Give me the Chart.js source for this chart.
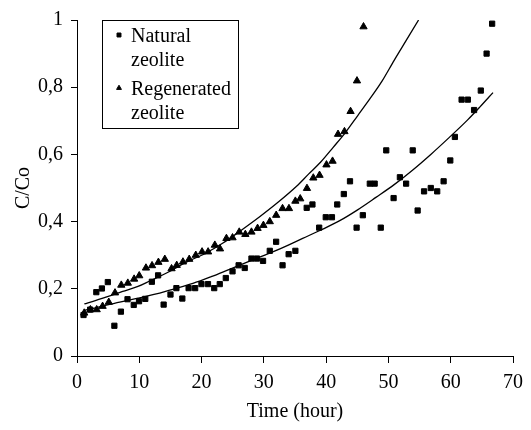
<!DOCTYPE html>
<html>
<head>
<meta charset="utf-8">
<script src="https://cdn.jsdelivr.net/npm/chart.js"></script>
<style>
  html, body { margin: 0; padding: 0; background: #fff; }
  #wrap { width: 531px; height: 430px; }
</style>
</head>
<body>
<div id="wrap"><canvas id="chart" width="531" height="430"></canvas></div>
<script>
// measured breakthrough points, natural zeolite
const hoursNatural = [1.05, 2.11, 3.1, 4.0, 4.95, 6.0, 7.05, 8.11, 9.11, 9.96, 10.96, 12.02, 13.02, 13.91,
  15.01, 15.96, 16.91, 17.92, 18.97, 19.98, 21.03, 22.03, 22.92, 23.89, 24.97, 25.95, 26.93, 28.01, 28.89,
  29.87, 30.95, 31.97, 33.0, 33.98, 35.06, 36.88, 37.8, 38.88, 39.94, 40.93, 41.78, 42.84, 43.83, 44.89,
  45.89, 47.01, 47.79, 48.77, 49.65, 50.83, 51.84, 52.84, 53.9, 54.69, 55.72, 56.8, 57.83, 58.86, 59.93,
  60.67, 61.75, 62.75, 63.75, 64.83, 65.76, 66.65];
const cNatural = [0.122, 0.138, 0.19, 0.201, 0.22, 0.09, 0.132, 0.169, 0.152, 0.163, 0.17, 0.221, 0.24, 0.153,
  0.183, 0.202, 0.171, 0.202, 0.202, 0.214, 0.214, 0.202, 0.214, 0.232, 0.252, 0.27, 0.262, 0.29, 0.29,
  0.283, 0.313, 0.34, 0.27, 0.303, 0.313, 0.441, 0.451, 0.382, 0.413, 0.413, 0.451, 0.482, 0.52, 0.382,
  0.419, 0.513, 0.513, 0.382, 0.612, 0.47, 0.532, 0.513, 0.612, 0.433, 0.49, 0.5, 0.49, 0.52, 0.582,
  0.652, 0.763, 0.763, 0.732, 0.79, 0.9, 0.989];

// measured breakthrough points, regenerated zeolite
const hoursRegen = [1.16, 2.15, 3.16, 4.11, 5.1, 6.1, 7.11, 8.16, 9.17, 9.99, 11.07, 12.05, 13.07, 14.1, 15.18,
  16.01, 17.01, 18.02, 19.07, 20.08, 21.05, 22.13, 22.96, 23.99, 24.97, 26.05, 27.03, 28.01, 28.99, 29.93,
  30.95, 31.98, 33.0, 34.03, 35.06, 35.84, 36.92, 37.94, 38.94, 40.05, 41.03, 41.91, 42.94, 43.92, 44.95, 46.0];
const cRegen = [0.128, 0.138, 0.138, 0.148, 0.16, 0.188, 0.211, 0.217, 0.229, 0.239, 0.262, 0.269, 0.279, 0.288, 0.26,
  0.27, 0.28, 0.288, 0.3, 0.31, 0.31, 0.33, 0.319, 0.35, 0.352, 0.369, 0.362, 0.369, 0.38, 0.389,
  0.4, 0.419, 0.439, 0.439, 0.461, 0.468, 0.499, 0.53, 0.538, 0.569, 0.58, 0.66, 0.668, 0.728, 0.819, 0.98];

// fitted model curves
const fitRegenHours = [1.18, 2.94, 4.9, 7.34, 9.79, 11.75, 14.69, 17.63, 20.57, 23.5, 26.44, 29.38, 32.32, 35.25,
  37.21, 39.17, 41.13, 43.09, 45.05, 47.01, 48.97, 50.92, 52.88, 54.84];
const fitRegenC = [0.155, 0.165, 0.177, 0.192, 0.207, 0.224, 0.25, 0.28, 0.305, 0.337, 0.375, 0.415, 0.458, 0.505,
  0.542, 0.578, 0.621, 0.665, 0.715, 0.765, 0.818, 0.88, 0.94, 1.0];
const fitNaturalHours = [1.08, 3.92, 6.86, 9.79, 12.73, 15.67, 18.61, 21.54, 24.48, 27.42, 30.36, 33.3, 36.23, 39.17,
  42.11, 45.05, 47.99, 50.92, 53.86, 56.8, 59.74, 62.68, 64.63, 66.79];
const fitNaturalC = [0.135, 0.148, 0.16, 0.172, 0.185, 0.2, 0.216, 0.236, 0.258, 0.28, 0.302, 0.325, 0.35, 0.375,
  0.402, 0.435, 0.472, 0.51, 0.553, 0.6, 0.65, 0.702, 0.74, 0.784];

const xTicks = [0, 10, 20, 30, 40, 50, 60, 70];
const yTicks = ['0', '0,2', '0,4', '0,6', '0,8', '1'];

const pts = (xs, ys) => xs.map((x, i) => ({ x: x, y: ys[i] }));
const serif = '"Liberation Serif", "Times New Roman", serif';
const fontSize = 20;

// legend drawn inside the plot, upper left, with a thin frame
const boxLegend = {
  id: 'boxLegend',
  afterDraw(chart) {
    const ctx = chart.ctx;
    const area = chart.chartArea;
    const x0 = area.left + 25, y0 = area.top;
    const w = 136, h = 108;
    ctx.save();
    ctx.strokeStyle = '#000';
    ctx.lineWidth = 1;
    ctx.strokeRect(x0 + 0.5, y0 + 0.5, w, h);
    ctx.fillStyle = '#000';
    ctx.font = fontSize + 'px ' + serif;
    ctx.textBaseline = 'alphabetic';
    const entries = chart.data.datasets.filter(d => d.inLegend);
    entries.forEach((ds, i) => {
      const top = y0 + 22 + i * 53;
      const words = ds.label.split(' ');
      Chart.helpers.drawPoint(ctx, {
        pointStyle: ds.pointStyle, radius: 2.8, rotation: 0, borderWidth: 1
      }, x0 + 17, top - 7);
      ctx.fillText(words[0], x0 + 29, top);
      ctx.fillText(words.slice(1).join(' '), x0 + 29, top + 24);
    });
    ctx.restore();
  }
};

new Chart(document.getElementById('chart'), {
  type: 'scatter',
  data: {
    datasets: [
      {
        label: 'Natural zeolite', inLegend: true,
        data: pts(hoursNatural, cNatural),
        pointStyle: 'rect', pointRadius: 3.7, borderWidth: 1,
        backgroundColor: '#000', borderColor: '#000'
      },
      {
        label: 'Regenerated zeolite', inLegend: true,
        data: pts(hoursRegen, cRegen),
        pointStyle: 'triangle', pointRadius: 4.2, borderWidth: 1,
        backgroundColor: '#000', borderColor: '#000'
      },
      {
        label: 'fit regenerated',
        data: pts(fitRegenHours, fitRegenC),
        showLine: true, pointRadius: 0, borderColor: '#000', borderWidth: 1.3,
        cubicInterpolationMode: 'monotone', fill: false
      },
      {
        label: 'fit natural',
        data: pts(fitNaturalHours, fitNaturalC),
        showLine: true, pointRadius: 0, borderColor: '#000', borderWidth: 1.3,
        cubicInterpolationMode: 'monotone', fill: false
      }
    ]
  },
  options: {
    responsive: false,
    animation: false,
    layout: { padding: { left: 8, top: 18, right: 11.5, bottom: 2 } },
    plugins: {
      legend: { display: false },
      tooltip: { enabled: false }
    },
    scales: {
      x: {
        type: 'linear', min: 0, max: 70,
        afterBuildTicks: s => { s.ticks = xTicks.map(v => ({ value: v })); },
        afterFit: s => { s.height = 72; },
        ticks: { color: '#000', font: { family: serif, size: fontSize }, padding: 8, maxRotation: 0 },
        grid: { display: true, drawOnChartArea: false, drawTicks: true, tickLength: 7, color: '#000' },
        border: { display: true, color: '#000', width: 1 },
        title: { display: true, text: 'Time (hour)', color: '#000', font: { family: serif, size: fontSize }, padding: { top: 7 } }
      },
      y: {
        type: 'linear', min: 0, max: 1,
        afterBuildTicks: s => { s.ticks = yTicks.map((t, i) => ({ value: i * 0.2 })); },
        afterFit: s => { s.width = 69; },
        ticks: {
          color: '#000', font: { family: serif, size: fontSize }, padding: 8,
          callback: (v, i) => yTicks[i]
        },
        grid: { display: true, drawOnChartArea: false, drawTicks: true, tickLength: 6, color: '#000' },
        border: { display: true, color: '#000', width: 1 },
        title: { display: true, text: 'C/Co', color: '#000', font: { family: serif, size: fontSize }, padding: { bottom: 2 } }
      }
    }
  },
  plugins: [boxLegend]
});
</script>
</body>
</html>
